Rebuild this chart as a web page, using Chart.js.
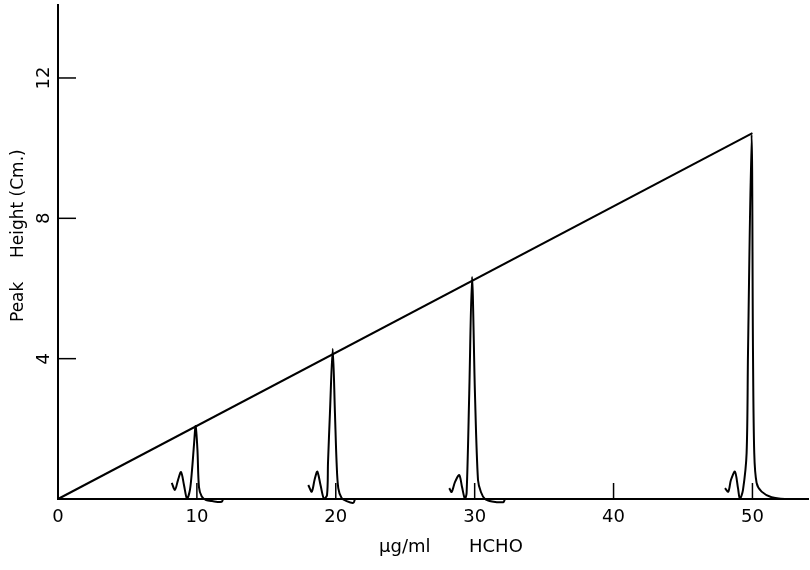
<!DOCTYPE html>
<html>
<head>
<meta charset="utf-8">
<script src="https://cdn.jsdelivr.net/npm/chart.js@4.4.1/dist/chart.umd.min.js"></script>
<style>
html,body{margin:0;padding:0;background:#fff;}
canvas{display:block;}
</style>
</head>
<body>
<canvas id="c" width="810" height="570"></canvas>
<script>
// ---- tick values ----
const xTickValues = [0, 10, 20, 30, 40, 50];
const yTickValues = [4, 8, 12];

// ---- calibration line (µg/ml HCHO vs peak height cm) ----
const calibX = [0, 50];
const calibY = [0, 10.43];

// ---- chromatogram traces drawn at each concentration ----
const peak10X = [8.19, 8.42, 8.64, 8.86, 9.07, 9.29, 9.50, 9.65, 9.79, 9.91, 10.04, 10.15, 10.35, 10.66, 11.09, 11.79, 11.88];
const peak10Y = [0.46, 0.26, 0.54, 0.77, 0.40, 0.00, 0.26, 0.83, 1.54, 2.08, 1.40, 0.34, 0.07, -0.03, -0.06, -0.08, 0.00];

const peak20X = [18.02, 18.27, 18.47, 18.67, 18.90, 19.15, 19.37, 19.44, 19.58, 19.78, 19.94, 20.06, 20.18, 20.42, 20.78, 21.26, 21.38];
const peak20Y = [0.40, 0.21, 0.54, 0.78, 0.40, 0.00, 0.11, 1.03, 2.45, 4.28, 2.45, 1.03, 0.31, 0.03, -0.06, -0.11, 0.00];

const peak30X = [28.17, 28.34, 28.58, 28.89, 29.09, 29.30, 29.42, 29.61, 29.81, 30.02, 30.24, 30.45, 30.74, 31.25, 32.06, 32.18];
const peak30Y = [0.31, 0.20, 0.48, 0.68, 0.34, 0.00, 0.17, 3.02, 6.33, 3.02, 0.54, 0.20, 0.00, -0.07, -0.09, 0.00];

const peak50X = [48.02, 48.26, 48.45, 48.74, 48.96, 49.10, 49.32, 49.58, 49.68, 49.94, 50.04, 50.13, 50.30, 50.66, 51.38, 52.34, 54.00];
const peak50Y = [0.31, 0.21, 0.54, 0.78, 0.31, 0.00, 0.26, 1.31, 4.16, 10.38, 4.16, 1.31, 0.46, 0.21, 0.05, 0.00, 0.00];

const toPts = (xs, ys) => xs.map((x, i) => ({x: x, y: ys[i]}));

const traceStyle = {
  showLine: true, pointRadius: 0, borderColor: '#000', borderWidth: 2,
  tension: 0.3, clip: false, fill: false
};

const overlay = {
  id: 'overlay',
  afterDraw(chart) {
    const {ctx} = chart;
    const xs = chart.scales.x, ys = chart.scales.y;
    const base = ys.getPixelForValue(0);
    const left = xs.getPixelForValue(0);
    ctx.save();
    ctx.strokeStyle = '#000';
    ctx.lineWidth = 1.5;
    xTickValues.filter(v => v > 0).forEach(v => {
      const px = xs.getPixelForValue(v);
      ctx.beginPath(); ctx.moveTo(px, base); ctx.lineTo(px, base - 16); ctx.stroke();
    });
    yTickValues.forEach(v => {
      const py = ys.getPixelForValue(v);
      ctx.beginPath(); ctx.moveTo(left, py); ctx.lineTo(left + 18, py); ctx.stroke();
    });
    ctx.fillStyle = '#000';
    ctx.font = '18px "DejaVu Sans"';
    ctx.textAlign = 'center';
    ctx.textBaseline = 'alphabetic';
    yTickValues.forEach(v => {
      const py = ys.getPixelForValue(v);
      ctx.save(); ctx.translate(49, py); ctx.rotate(-Math.PI / 2);
      ctx.fillText(String(v), 0, 0); ctx.restore();
    });
    ctx.font = '17px "DejaVu Sans"';
    ctx.textAlign = 'left';
    ctx.save(); ctx.translate(23, 322); ctx.rotate(-Math.PI / 2);
    ctx.fillText('Peak', 0, 0);
    ctx.fillText('Height (Cm.)', 64, 0);
    ctx.restore();
    ctx.font = '18px "DejaVu Sans"';
    ctx.fillText('\u03bcg/ml', 379, 552);
    ctx.fillText('HCHO', 469, 552);
    ctx.restore();
  }
};

new Chart(document.getElementById('c'), {
  type: 'scatter',
  data: {
    datasets: [
      Object.assign({data: toPts(calibX, calibY)}, traceStyle, {tension: 0}),
      Object.assign({data: toPts(peak10X, peak10Y)}, traceStyle),
      Object.assign({data: toPts(peak20X, peak20Y)}, traceStyle),
      Object.assign({data: toPts(peak30X, peak30Y)}, traceStyle),
      Object.assign({data: toPts(peak50X, peak50Y)}, traceStyle)
    ]
  },
  options: {
    responsive: false,
    animation: false,
    devicePixelRatio: 1,
    events: [],
    layout: {padding: {top: 5, right: 2, left: 0, bottom: 0}},
    plugins: {legend: {display: false}, tooltip: {enabled: false}},
    scales: {
      x: {
        type: 'linear', min: 0, max: 54,
        grid: {display: false, drawTicks: false},
        border: {display: true, color: '#000', width: 2},
        afterBuildTicks: s => { s.ticks = xTickValues.map(v => ({value: v})); },
        afterFit: s => { s.height = 71; },
        ticks: {
          color: '#000', padding: 8, maxRotation: 0, autoSkip: false,
          font: {family: 'DejaVu Sans', size: 18}
        }
      },
      y: {
        type: 'linear', min: 0, max: 14.08,
        grid: {display: false, drawTicks: false},
        border: {display: true, color: '#000', width: 2},
        afterBuildTicks: s => { s.ticks = yTickValues.map(v => ({value: v})); },
        afterFit: s => { s.width = 58; },
        ticks: {display: false}
      }
    }
  },
  plugins: [overlay]
});
</script>
</body>
</html>
